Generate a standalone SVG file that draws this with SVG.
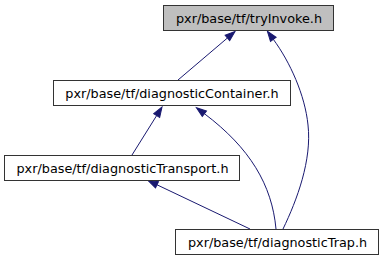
<svg xmlns="http://www.w3.org/2000/svg" width="384" height="261" viewBox="0 0 384 261">
<style>
.node rect{fill:#ffffff;stroke:#333333;stroke-width:1}
.node.focus rect{fill:#bfbfbf}
.node text{font-family:"DejaVu Sans",sans-serif;font-size:12.8px;fill:#000000;text-anchor:middle}
.edges path{fill:none;stroke:#191970;stroke-width:1;marker-end:url(#arr)}
</style>
<defs>
<marker id="arr" viewBox="-1 -5 12 10" refX="0" refY="0" markerWidth="12" markerHeight="10" markerUnits="userSpaceOnUse" orient="auto" overflow="visible">
<path d="M0,-3.5 L10,0 L0,3.5 Z" fill="#191970" stroke="#191970" stroke-width="1"/>
</marker>
</defs>
<rect width="384" height="261" fill="#ffffff"/>
<g class="edges">
<path d="M178,80 L227.4,38"/>
<path d="M283,229 C297,200 312,160 308,125 C305,95 290,62 273.3,39.3"/>
<path d="M132,155 L156.7,115.5"/>
<path d="M276,229 C272,185 250,148 204.4,113.7"/>
<path d="M250,229 L157,184.8"/>
</g>
<g id="node-tryInvoke" class="node focus">
<rect x="163.5" y="5.5" width="170" height="25"/>
<text x="249" y="23">pxr/base/tf/tryInvoke.h</text>
</g>
<g id="node-diagnosticContainer" class="node">
<rect x="53.5" y="80.5" width="237" height="25"/>
<text x="172" y="98">pxr/base/tf/diagnosticContainer.h</text>
</g>
<g id="node-diagnosticTransport" class="node">
<rect x="4.5" y="155.5" width="235" height="25"/>
<text x="122.5" y="173">pxr/base/tf/diagnosticTransport.h</text>
</g>
<g id="node-diagnosticTrap" class="node">
<rect x="175.5" y="229.5" width="203" height="25"/>
<text x="277.5" y="247">pxr/base/tf/diagnosticTrap.h</text>
</g>
</svg>
